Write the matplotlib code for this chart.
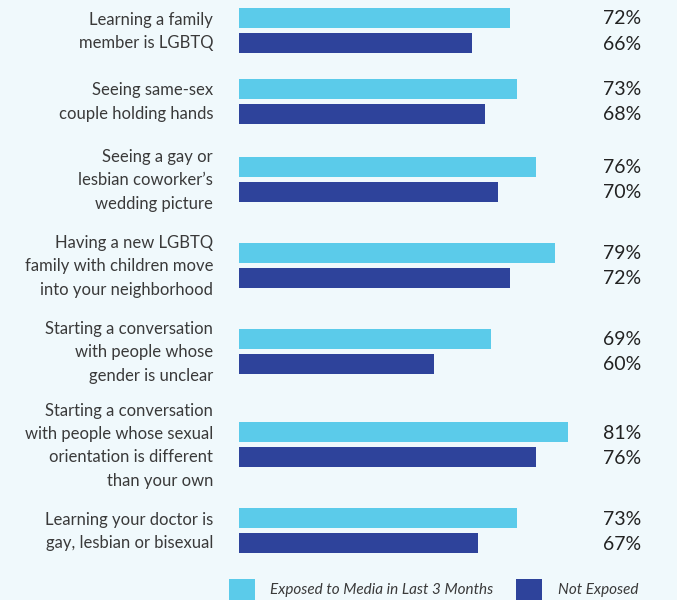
import matplotlib
matplotlib.use("Agg")
import matplotlib.pyplot as plt
from matplotlib.patches import Patch
from matplotlib.transforms import blended_transform_factory

categories = [
    "Learning a family\nmember is LGBTQ",
    "Seeing same-sex\ncouple holding hands",
    "Seeing a gay or\nlesbian coworker\u2019s\nwedding picture",
    "Having a new LGBTQ\nfamily with children move\ninto your neighborhood",
    "Starting a conversation\nwith people whose\ngender is unclear",
    "Starting a conversation\nwith people whose sexual\norientation is different\nthan your own",
    "Learning your doctor is\ngay, lesbian or bisexual",
]
exposed = [72, 73, 76, 79, 69, 81, 73]
not_exposed = [66, 68, 70, 72, 60, 76, 67]
series_names = ["Exposed to Media in Last 3 Months", "Not Exposed"]

BG = "#f0f9fc"
LIGHT = "#5bcbea"
DARK = "#2e439b"
TXT = "#3a3a3a"
FONT = ["Lato", "DejaVu Sans"]

W, H = 677, 600
fig = plt.figure(figsize=(W / 100, H / 100), dpi=100, facecolor=BG)
ax = fig.add_axes([239 / W, 0, (641 - 239) / W, 1])
ax.set_facecolor(BG)

# group centres from number of label lines (layout units ~ pixels)
lines = [c.count("\n") + 1 for c in categories]
centers = [30.5]
for i in range(1, len(lines)):
    centers.append(centers[-1] + 40.1 + 15.26 * (lines[i - 1] + lines[i]) / 2)

bh = 20
off = 12.5
y1 = [c - off for c in centers]
y2 = [c + off for c in centers]
ax.barh(y1, exposed, height=bh, color=LIGHT, left=0)
ax.barh(y2, not_exposed, height=bh, color=DARK, left=0)

ax.set_xlim(29.6, 92.4)
ax.set_ylim(H, 0)
ax.axis("off")

tr = blended_transform_factory(ax.transAxes, ax.transData)
for y, v in zip(y1, exposed):
    ax.text(1.0, y + 1, f"{v}%", transform=tr, ha="right", va="center",
            fontsize=14, color="#222222", family=FONT)
for y, v in zip(y2, not_exposed):
    ax.text(1.0, y + 1, f"{v}%", transform=tr, ha="right", va="center",
            fontsize=14, color="#222222", family=FONT)

trl = blended_transform_factory(fig.transFigure, ax.transData)
for c, lab in zip(centers, categories):
    ax.text(213 / W, c + 1, lab, transform=trl, ha="right", va="center",
            fontsize=12, color=TXT, family=FONT, linespacing=1.57)

handles = [Patch(facecolor=LIGHT), Patch(facecolor=DARK)]
fig.legend(handles, series_names, loc="upper left",
           bbox_to_anchor=(229 / W, (H - 579) / H), ncol=2, frameon=False,
           handlelength=1.7, handleheight=1.7, handletextpad=1.0,
           columnspacing=1.5, borderpad=0, borderaxespad=0,
           prop={"family": FONT, "style": "italic", "size": 11},
           labelcolor=TXT)

fig.savefig("out.png", dpi=100, facecolor=BG)
